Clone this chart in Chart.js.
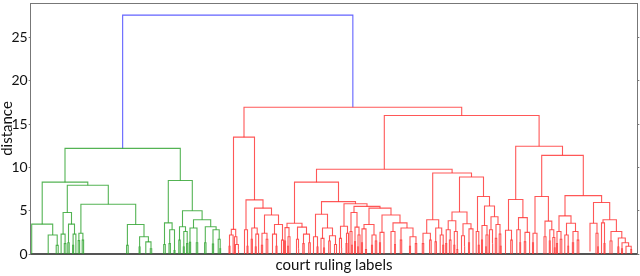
<!DOCTYPE html>
<html>
<head>
<meta charset="utf-8">
<script src="https://cdn.jsdelivr.net/npm/chart.js@4"></script>
<style>
  html, body { margin: 0; padding: 0; background: #fff; }
  #wrap { width: 640px; height: 276px; }
</style>
</head>
<body>
<div id="wrap"><canvas id="dendro"></canvas></div>
<script>
// each link: [x of left leg, x of right leg, merge distance, left leg bottom, right leg bottom]
const rootLinks = [
  [122.65, 352.85, 27.6, 12.2, 16.95]
];

const greenLinks = [
  [65, 180.3, 12.2, 8.3, 8.5],
  [42.2, 87.8, 8.3, 3.45, 7.95],
  [31.7, 52.7, 3.45, 0, 2.2],
  [48.2, 57.2, 2.2, 0, 1.0],
  [56.2, 58.2, 1.0, 0, 0],
  [67.3, 108.3, 7.95, 4.8, 5.75],
  [63.1, 71.5, 4.8, 2.3, 3.45],
  [61.1, 65.1, 2.3, 0, 1.2],
  [64.3, 65.9, 1.2, 0, 0],
  [68.5, 74.5, 3.45, 1.3, 2.3],
  [67.8, 69.2, 1.3, 0, 0],
  [73.1, 75.9, 2.3, 1.0, 0],
  [72.6, 73.6, 1.0, 0, 0],
  [80.9, 135.7, 5.75, 2.4, 3.4],
  [78.9, 82.9, 2.4, 1.55, 1.6],
  [78.2, 79.6, 1.55, 0, 0],
  [82.2, 83.6, 1.6, 0, 0],
  [127.4, 144, 3.4, 1.0, 2.0],
  [126.6, 128.2, 1.0, 0, 0],
  [139.6, 148.4, 2.0, 0.8, 1.4],
  [139.1, 140.1, 0.8, 0, 0],
  [145.8, 151, 1.4, 0, 0.6],
  [150.3, 151.7, 0.6, 0, 0],
  [168.3, 192.3, 8.5, 3.6, 5.0],
  [164.5, 172.1, 3.6, 1.1, 2.8],
  [163.7, 165.3, 1.1, 0, 0],
  [169.7, 174.5, 2.8, 1.2, 0.4],
  [169, 170.4, 1.2, 0, 0],
  [174, 175, 0.4, 0, 0],
  [182.5, 202.1, 5.0, 3.15, 3.95],
  [179.5, 185.5, 3.15, 1.6, 2.6],
  [178.8, 180.2, 1.6, 0, 0],
  [183.8, 187.2, 2.6, 0.8, 1.2],
  [183.3, 184.3, 0.8, 0, 0],
  [186.6, 187.8, 1.2, 0, 0],
  [193.5, 210.7, 3.95, 3.0, 3.15],
  [190, 197, 3.0, 1.35, 1.3],
  [189.4, 190.6, 1.35, 0, 0],
  [196.3, 197.7, 1.3, 0, 0],
  [205.3, 216.1, 3.15, 1.3, 2.8],
  [204.6, 206, 1.3, 0, 0],
  [213, 219.2, 2.8, 1.15, 1.7],
  [212.4, 213.6, 1.15, 0, 0],
  [218.2, 220.2, 1.7, 0, 0.6],
  [219.8, 220.6, 0.6, 0, 0]
];

const redLinks = [
  [244, 461.7, 16.95, 13.5, 16.0],
  [233.5, 254.5, 13.5, 2.85, 6.25],
  [231.3, 235.7, 2.85, 2.2, 2.0],
  [229.5, 233.1, 2.2, 0.9, 0],
  [229, 230, 0.9, 0, 0],
  [234.5, 236.9, 2.0, 0, 1.1],
  [235.4, 238.4, 1.1, 0, 0.5],
  [238, 238.8, 0.5, 0, 0],
  [246, 263, 6.25, 2.8, 5.3],
  [244.5, 247.5, 2.8, 0, 0.9],
  [247, 248, 0.9, 0, 0],
  [254.5, 271.5, 5.3, 3.0, 4.5],
  [251.8, 257.2, 3.0, 1.7, 2.3],
  [251.2, 252.4, 1.7, 0, 0],
  [255.8, 258.6, 2.3, 0.8, 0],
  [255.3, 256.3, 0.8, 0, 0],
  [264.5, 278.5, 4.5, 2.4, 3.4],
  [262, 267, 2.4, 1.0, 1.7],
  [261.4, 262.6, 1.0, 0, 0],
  [266.2, 267.8, 1.7, 0, 0],
  [274.5, 282.5, 3.4, 2.3, 1.6],
  [272.5, 276.5, 2.3, 0, 0.9],
  [276, 277, 0.9, 0, 0],
  [281.5, 283.5, 1.6, 0, 0],
  [384.3, 539.1, 16.0, 9.8, 12.45],
  [316.5, 452.1, 9.8, 8.3, 9.35],
  [294.5, 338.5, 8.3, 3.55, 6.05],
  [287, 302, 3.55, 3.05, 3.1],
  [285, 289, 3.05, 1.5, 2.0],
  [284.5, 285.5, 1.5, 0, 0],
  [288, 290, 2.0, 0.9, 0],
  [287.6, 288.4, 0.9, 0, 0],
  [297.5, 306.5, 3.1, 1.7, 2.3],
  [296.5, 298.5, 1.7, 0, 0.6],
  [298.1, 298.9, 0.6, 0, 0],
  [303.5, 309.5, 2.3, 1.2, 1.3],
  [302.8, 304.2, 1.2, 0, 0],
  [308.7, 310.3, 1.3, 0, 0],
  [321.5, 355.5, 6.05, 4.6, 5.8],
  [315.5, 327.5, 4.6, 2.0, 3.0],
  [313.5, 317.5, 2.0, 0, 0.8],
  [317, 318, 0.8, 0, 0],
  [322.5, 332.5, 3.0, 1.8, 2.1],
  [321, 324, 1.8, 0, 0.7],
  [323.5, 324.5, 0.7, 0, 0],
  [329.5, 335.5, 2.1, 1.5, 1.1],
  [328.7, 330.3, 1.5, 0, 0],
  [334.5, 336.5, 1.1, 0, 0],
  [344, 367, 5.8, 3.2, 5.5],
  [340.5, 347.5, 3.2, 1.8, 2.4],
  [339.5, 341.5, 1.8, 0, 0.7],
  [341.1, 341.9, 0.7, 0, 0],
  [346.5, 348.5, 2.4, 1.2, 0],
  [346, 347, 1.2, 0, 0],
  [354, 380, 5.5, 4.8, 5.3],
  [351, 357, 4.8, 2.6, 3.1],
  [350, 352, 2.6, 0, 1.0],
  [351.6, 352.4, 1.0, 0, 0],
  [355, 359, 3.1, 1.4, 2.2],
  [354.5, 355.5, 1.4, 0, 0],
  [358, 360, 2.2, 0.8, 0],
  [357.6, 358.4, 0.8, 0, 0],
  [369, 391, 5.3, 3.4, 4.5],
  [364, 374, 3.4, 2.9, 2.2],
  [362, 366, 2.9, 1.3, 0.5],
  [361.5, 362.5, 1.3, 0, 0],
  [365.5, 366.5, 0.5, 0, 0],
  [372, 376, 2.2, 1.0, 1.5],
  [371.5, 372.5, 1.0, 0, 0],
  [375.3, 376.7, 1.5, 0, 0],
  [382, 400, 4.5, 2.5, 3.6],
  [380, 384, 2.5, 1.3, 0],
  [379.5, 380.5, 1.3, 0, 0],
  [393, 407, 3.6, 2.6, 3.0],
  [391, 395, 2.6, 0, 1.1],
  [394.6, 395.4, 1.1, 0, 0],
  [401, 413, 3.0, 1.6, 2.0],
  [400.3, 401.7, 1.6, 0, 0],
  [410, 416, 2.0, 0.9, 1.2],
  [409.5, 410.5, 0.9, 0, 0],
  [415.3, 416.7, 1.2, 0, 0],
  [432.7, 471.5, 9.35, 3.95, 8.9],
  [426.7, 438.7, 3.95, 2.4, 3.0],
  [423, 430.4, 2.4, 1.2, 1.6],
  [422.3, 423.7, 1.2, 0, 0],
  [429.6, 431.2, 1.6, 0, 0],
  [435.7, 441.7, 3.0, 1.4, 2.2],
  [435, 436.4, 1.4, 0, 0],
  [440.2, 443.2, 2.2, 0, 1.0],
  [442.7, 443.7, 1.0, 0, 0],
  [459.5, 483.5, 8.9, 4.85, 6.65],
  [452, 467, 4.85, 3.85, 3.5],
  [448.2, 455.8, 3.85, 2.8, 2.6],
  [446.2, 450.2, 2.8, 1.2, 1.6],
  [445.7, 446.7, 1.2, 0, 0],
  [449.4, 451, 1.6, 0, 0],
  [454.3, 457.3, 2.6, 1.0, 0.5],
  [453.8, 454.8, 1.0, 0, 0],
  [456.9, 457.7, 0.5, 0, 0],
  [463, 471, 3.5, 2.1, 2.9],
  [461.5, 464.5, 2.1, 0, 0.9],
  [464.1, 464.9, 0.9, 0, 0],
  [469, 473, 2.9, 1.3, 0],
  [468.5, 469.5, 1.3, 0, 0],
  [477.5, 489.5, 6.65, 2.6, 5.55],
  [476.2, 478.8, 2.6, 0, 1.0],
  [478.3, 479.3, 1.0, 0, 0],
  [484.5, 494.5, 5.55, 3.3, 4.3],
  [482, 487, 3.3, 1.6, 2.2],
  [481.5, 482.5, 1.6, 0, 0],
  [486, 488, 2.2, 0.8, 0],
  [485.6, 486.4, 0.8, 0, 0],
  [491, 498, 4.3, 2.8, 3.4],
  [489.5, 492.5, 2.8, 0, 1.2],
  [492.1, 492.9, 1.2, 0, 0],
  [496, 500, 3.4, 1.8, 2.3],
  [495.3, 496.7, 1.8, 0, 0],
  [499.2, 500.8, 2.3, 0, 0.9],
  [500.4, 501.2, 0.9, 0, 0],
  [515.7, 562.5, 12.45, 6.3, 11.4],
  [508.5, 522.9, 6.3, 2.75, 4.2],
  [505.5, 511.5, 2.75, 0, 1.6],
  [510.7, 512.3, 1.6, 0, 0],
  [518.5, 527.3, 4.2, 2.8, 2.5],
  [516.8, 520.2, 2.8, 0, 1.3],
  [519.8, 520.6, 1.3, 0, 0],
  [525, 529.6, 2.5, 1.4, 0],
  [524.3, 525.7, 1.4, 0, 0],
  [541.7, 583.3, 11.4, 6.65, 6.75],
  [535, 548.4, 6.65, 2.4, 3.8],
  [533, 537, 2.4, 1.3, 0],
  [532.5, 533.5, 1.3, 0, 0],
  [545, 551.8, 3.8, 2.0, 2.8],
  [544, 546, 2.0, 0, 0],
  [549.8, 553.8, 2.8, 1.5, 1.9],
  [549.3, 550.3, 1.5, 0, 0],
  [552.8, 554.8, 1.9, 0, 0.7],
  [554.4, 555.2, 0.7, 0, 0],
  [565, 601.6, 6.75, 4.4, 5.95],
  [559, 571, 4.4, 2.6, 3.55],
  [557, 561, 2.6, 1.2, 1.7],
  [556.5, 557.5, 1.2, 0, 0],
  [560.2, 561.8, 1.7, 0, 0],
  [566.5, 575.5, 3.55, 2.2, 2.6],
  [564.8, 568.2, 2.2, 0, 0.9],
  [567.8, 568.6, 0.9, 0, 0],
  [573, 578, 2.6, 1.3, 1.6],
  [572.4, 573.6, 1.3, 0, 0],
  [577.2, 578.8, 1.6, 0, 0],
  [593.5, 609.7, 5.95, 3.55, 3.95],
  [590, 597, 3.55, 0.3, 2.4],
  [596, 598, 2.4, 0, 0.8],
  [597.6, 598.4, 0.8, 0, 0],
  [603, 616.4, 3.95, 3.6, 2.6],
  [601.5, 604.5, 3.6, 0, 1.2],
  [604, 605, 1.2, 0, 0],
  [611, 621.8, 2.6, 1.5, 1.85],
  [610, 612, 1.5, 0, 0],
  [618.3, 625.3, 1.85, 0.8, 1.3],
  [617.8, 618.8, 0.8, 0, 0],
  [622, 628.6, 1.3, 0.6, 0.9],
  [621.5, 622.5, 0.6, 0, 0],
  [626, 631.2, 0.9, 0, 0.5],
  [630.8, 631.6, 0.5, 0, 0]
];

const yTickValues = [0, 5, 10, 15, 20, 25];
const xRange = [30.7, 637.3];
const yRange = [0, 29];

const GREEN = 'rgba(40, 160, 40, 0.8)';
const RED = 'rgba(255, 45, 45, 0.8)';
const BLUE = 'rgba(70, 70, 255, 0.85)';

function linkDataset(link, color) {
  const [xl, xr, top, bl, br] = link;
  return {
    data: [{x: xl, y: bl}, {x: xl, y: top}, {x: xr, y: top}, {x: xr, y: br}],
    borderColor: color,
    borderWidth: 1.1,
    pointRadius: 0,
    fill: false,
    tension: 0
  };
}

const datasets = []
  .concat(greenLinks.map(l => linkDataset(l, GREEN)))
  .concat(redLinks.map(l => linkDataset(l, RED)))
  .concat(rootLinks.map(l => linkDataset(l, BLUE)));

const keepTicks = scale => {
  scale.ticks = scale.ticks.filter(t => yTickValues.includes(t.value));
};

// vertical scales: fixed width, no extra room for half tick labels
const fitVertical = width => s => {
  s.width = width;
  s.paddingTop = 0;
  s.paddingBottom = 0;
};

const frameTop = {
  id: 'frameTop',
  afterDraw(chart) {
    const {ctx, chartArea} = chart;
    ctx.save();
    ctx.strokeStyle = '#777';
    ctx.lineWidth = 1;
    ctx.beginPath();
    ctx.moveTo(chartArea.left, chartArea.top + 0.5);
    ctx.lineTo(chartArea.right, chartArea.top + 0.5);
    ctx.stroke();
    ctx.restore();
  }
};

const ctx = document.getElementById('dendro').getContext('2d');
const dendroChart = new Chart(ctx, {
  type: 'line',
  data: { datasets: datasets },
  options: {
    responsive: true,
    maintainAspectRatio: false,
    animation: false,
    events: [],
    layout: { autoPadding: false, padding: { top: 3, left: 0, right: 0, bottom: 0 } },
    plugins: { legend: { display: false }, tooltip: { enabled: false } },
    scales: {
      x: {
        type: 'linear',
        min: xRange[0],
        max: xRange[1],
        ticks: { display: false },
        grid: { display: false },
        border: { display: true, color: '#555', width: 2 },
        title: {
          display: true,
          text: 'court ruling labels',
          color: '#111',
          font: { family: 'Lato', size: 15 },
          padding: { top: 4, bottom: 2 }
        },
        afterFit: s => { s.height = 22; s.paddingLeft = 0; s.paddingRight = 0; }
      },
      y: {
        min: yRange[0],
        max: yRange[1],
        ticks: {
          stepSize: 5,
          color: '#111',
          padding: 1,
          font: { family: 'Lato', size: 14 }
        },
        afterBuildTicks: keepTicks,
        grid: { drawOnChartArea: false, tickLength: 2, color: '#777' },
        border: { color: '#777', width: 1 },
        title: {
          display: true,
          text: 'distance',
          color: '#111',
          font: { family: 'Lato', size: 15, lineHeight: 1 },
          padding: 0
        },
        afterFit: fitVertical(30.7)
      },
      y2: {
        position: 'right',
        min: yRange[0],
        max: yRange[1],
        ticks: { display: false, stepSize: 5 },
        afterBuildTicks: keepTicks,
        grid: { drawOnChartArea: false, tickLength: 2, color: '#777' },
        border: { color: '#777', width: 1 },
        afterFit: fitVertical(2.7)
      }
    }
  },
  plugins: [frameTop]
});
</script>
</body>
</html>
